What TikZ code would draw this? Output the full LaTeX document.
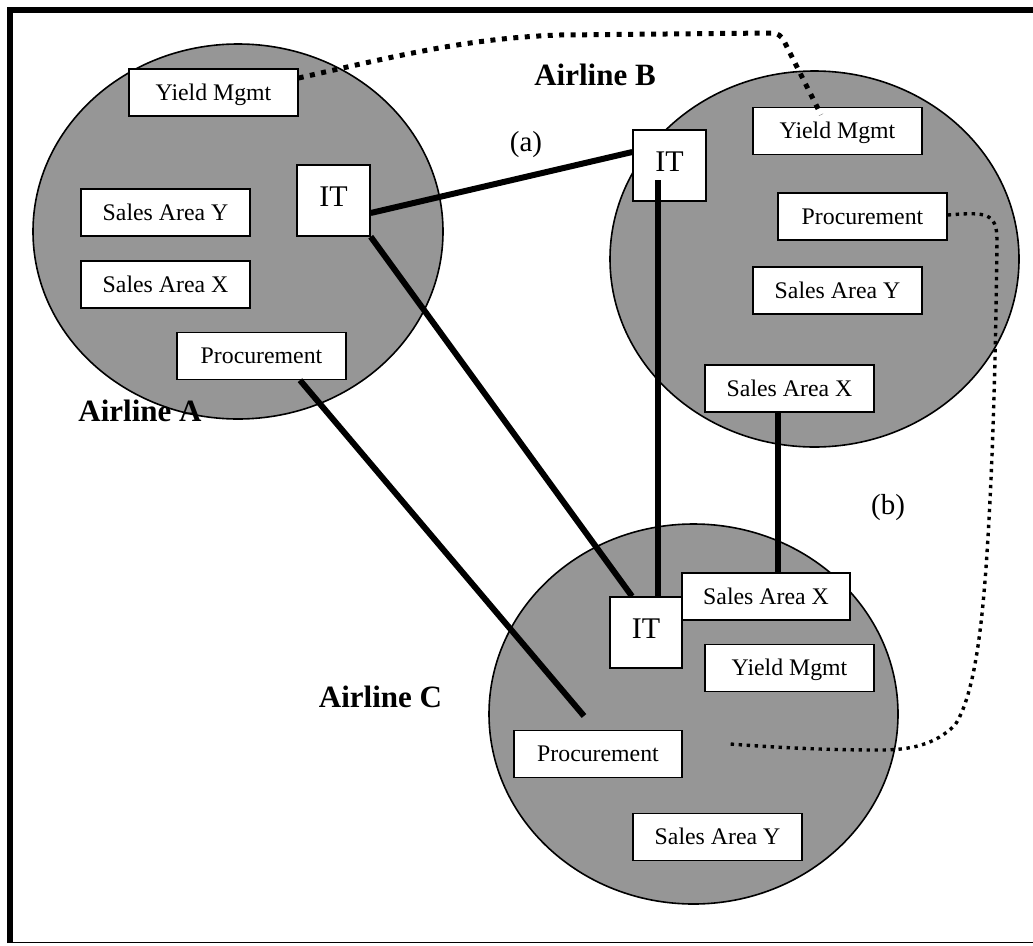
\documentclass[tikz,border=0pt]{standalone}
\usepackage{fontspec}
\setmainfont{Liberation Serif}
\definecolor{orgfill}{RGB}{150,150,150}
\begin{document}
\begin{tikzpicture}[x=1pt,y=-1pt,
  bx/.style={draw, fill=white, line width=1.4pt, minimum width=169pt, minimum height=47pt, inner sep=0pt, font=\fontsize{23.8}{28}\selectfont, text height=15.8pt, text depth=0pt},
  itbx/.style={draw, fill=white, line width=1.4pt, minimum width=73pt, minimum height=71pt, inner sep=0pt, font=\fontsize{30}{36}\selectfont, text height=19.9pt, text depth=8pt},
  org/.style={draw, line width=1.6pt, fill=orgfill},
  link/.style={line width=6pt},
  dotA/.style={line width=5pt, dash pattern=on 5pt off 6.5pt},
  dotB/.style={line width=3.4pt, dash pattern=on 3.4pt off 4.6pt},
  airl/.style={font=\fontsize{31}{36}\selectfont\bfseries, text height=20.5pt, text depth=0pt, inner sep=0pt},
  tag/.style={font=\fontsize{29}{34}\selectfont, inner sep=0pt}
]
\useasboundingbox (0,0) rectangle (1033,945);
% frame
\draw[line width=6pt] (9.5,943) -- (9.5,10) -- (1045,10);
\draw[line width=1.6pt] (9.5,942.5) -- (1045,942.5);
% organisations
\path[org] (238,231.5) ellipse [x radius=205pt, y radius=187.5pt];
\path[org] (814.5,259) ellipse [x radius=204.5pt, y radius=188pt];
\path[org] (693.5,714) ellipse [x radius=204.5pt, y radius=190pt];
% Airline A
\node[bx] (yA) at (213.5,92.5) {Yield Mgmt};
\node[bx] (syA) at (165.5,212.5) {Sales Area Y};
\node[bx] (sxA) at (165.5,284.5) {Sales Area X};
\node[bx] (prA) at (261.5,356) {Procurement};
\node[itbx] (itA) at (333.5,200.5) {IT};
% Airline B
\node[itbx] (itB) at (669.5,165.5) {IT};
\node[bx] (yB) at (837.5,131) {Yield Mgmt};
\node[bx] (prB) at (862.5,216.5) {Procurement};
\node[bx] (syB) at (837.5,290.5) {Sales Area Y};
\node[bx] (sxB) at (789.5,388.5) {Sales Area X};
% Airline C
\node[itbx, minimum width=72pt] (itC) at (646,632.5) {IT};
\node[bx, minimum width=168pt] (sxC) at (766,596.5) {Sales Area X};
\node[bx] (yC) at (789.5,668) {Yield Mgmt};
\node[bx, minimum width=168pt] (prC) at (598,754) {Procurement};
\node[bx] (syC) at (717.5,837) {Sales Area Y};
% solid links
\draw[link] ([yshift=-12.5pt]itA.east) -- ([yshift=13.5pt]itB.west);
\draw[link] (itA.south east) -- ([xshift=-14pt]itC.north);
\draw[link] ([xshift=-11.5pt,yshift=-14.5pt]itB.center) -- ([xshift=12pt]itC.north);
\draw[link] ([xshift=-11.5pt]sxB.south) -- ([xshift=12pt]sxC.north);
\coordinate (pEnd) at (584,716);
\draw[link] ([xshift=38.5pt]prA.south) -- (pEnd);
% dotted links
\draw[dotA] ([yshift=14.5pt]yA.east) .. controls (400,55) and (470,38) .. (560,35) -- (772,33) .. controls (778,33) and (781,36) .. (784,41) -- ([xshift=-16.5pt,yshift=-8pt]yB.north);
\coordinate (qEnd) at (730,744);
\draw[dotB] ([yshift=1.5pt]prB.east) .. controls (985,212) and (997,212) .. (997,240) .. controls (996,330) and (994,420) .. (990,500) .. controls (985,600) and (978,690) .. (955,725) .. controls (935,745) and (910,750) .. (880,750) .. controls (820,750) and (770,747) .. (qEnd);
% labels
\node[airl] (lA) at (140,411) {Airline A};
\node[airl] (lB) at (595,75) {Airline B};
\node[airl] (lC) at (380.5,697) {Airline C};
\node[tag] (la) at (526,145) {(a)};
\node[tag] (lb) at (888,508) {(b)};
\end{tikzpicture}
\end{document}
